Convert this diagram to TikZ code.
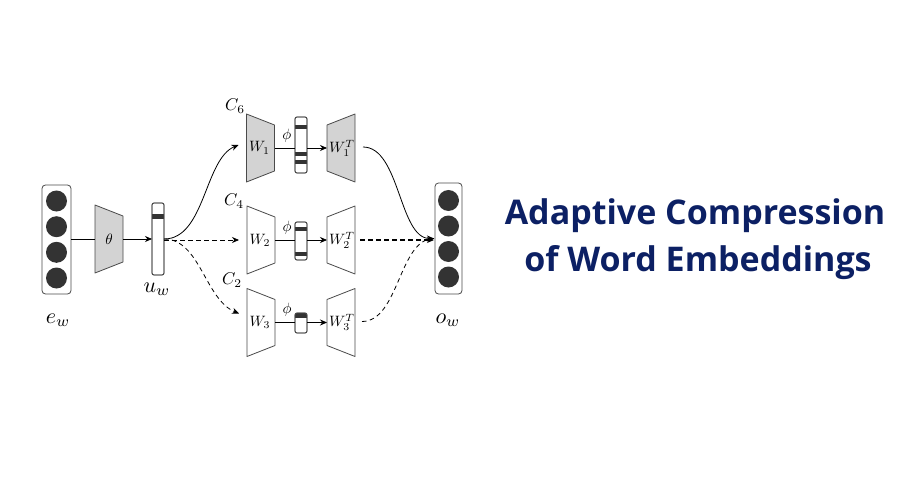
\documentclass[tikz,border=0pt]{standalone}
\usepackage{fontspec}
\newfontfamily\titlefont[Ligatures=NoCommon]{Open Sans}
\usetikzlibrary{arrows.meta,backgrounds}
\definecolor{titleblue}{HTML}{0C2064}
\definecolor{trapgray}{HTML}{D3D3D3}
\definecolor{dotgray}{HTML}{333333}
\definecolor{edgegray}{HTML}{4A4A4A}
\newcommand{\encshape}[2]{\draw[trap,#2] (#1.north west) -- ([yshift=-11pt]#1.north east) -- ([yshift=11pt]#1.south east) -- (#1.south west) -- cycle;}
\newcommand{\decshape}[2]{\draw[trap,#2] ([yshift=-11pt]#1.north west) -- (#1.north east) -- (#1.south east) -- ([yshift=11pt]#1.south west) -- cycle;}
\begin{document}
\begin{tikzpicture}[x=1pt,y=-1pt,
  trapnode/.style={minimum width=28pt,minimum height=68pt,inner sep=0pt,outer sep=0pt},
  traptext/.style={inner sep=0pt,scale=1.5},
  trap/.style={draw=edgegray,line width=0.8pt,line join=round,fill=white},
  filled/.style={fill=trapgray},
  vecbox/.style={draw=edgegray,line width=0.8pt,rounded corners=3.5pt,fill=white,inner sep=0pt,outer sep=0pt},
  barbox/.style={draw=edgegray,line width=0.8pt,rounded corners=2pt,fill=white,minimum width=12pt,inner sep=0pt,outer sep=0pt},
  barline/.style={draw=edgegray,line width=0.8pt,rounded corners=2pt},
  band/.style={fill=dotgray},
  dot/.style={fill=dotgray},
  conn/.style={line width=0.8pt},
  arr/.style={conn,-{Stealth[length=7pt,width=6pt]}},
  dashedconn/.style={dash pattern=on 4.5pt off 3.5pt},
  biglabel/.style={scale=2.2},
  clabel/.style={scale=1.7},
  smalllabel/.style={scale=1.5},
  titletext/.style={font=\titlefont\bfseries\fontsize{34}{40}\selectfont,text=titleblue,anchor=base}
]
\useasboundingbox (0,0) rectangle (900,500);

% input and output vectors
\node[vecbox,minimum width=29pt,minimum height=109pt] (ew) at (56.5,239.5) {};
\foreach \yy in {201,226.7,252.3,278} \fill[dot] (56.5,\yy) circle (10.5);
\node[vecbox,minimum width=27pt,minimum height=111pt] (ow) at (448.5,238.5) {};
\foreach \yy in {200.5,226,251.5,277} \fill[dot] (448.5,\yy) circle (10.5);

% encoder theta
\node[trapnode] (enc) at (109,239) {};
\node[traptext] (enct) at (enc) {$\theta$};
\node[barbox,minimum height=72pt] (uw) at (158,239) {};
\fill[band] (152,214) rectangle (164,219);
\draw[barline] (uw.north west) rectangle (uw.south east);

% branch encoders / decoders
\node[trapnode] (W1) at (260.5,148) {};
\node[trapnode] (W2) at (261,240) {};
\node[trapnode] (W3) at (261,322.5) {};
\node[trapnode] (D1) at (341,148) {};
\node[trapnode] (D2) at (341,240) {};
\node[trapnode] (D3) at (341,322.5) {};

\begin{pgfonlayer}{background}
\encshape{enc}{filled}
\encshape{W1}{filled}
\encshape{W2}{}
\encshape{W3}{}
\decshape{D1}{filled}
\decshape{D2}{}
\decshape{D3}{}
\end{pgfonlayer}

\node[traptext] (W1t) at ([xshift=-1pt]W1) {$W_1$};
\node[traptext] (W2t) at ([xshift=-1pt]W2) {$W_2$};
\node[traptext] (W3t) at ([xshift=-1pt]W3) {$W_3$};
\node[traptext] (D1t) at ([xshift=1pt]D1) {$W_1^T$};
\node[traptext] (D2t) at ([xshift=1pt]D2) {$W_2^T$};
\node[traptext] (D3t) at ([xshift=1pt]D3) {$W_3^T$};

% compressed codes
\node[barbox,minimum height=56pt] (b1) at (301,145) {};
\node[barbox,minimum height=38pt] (b2) at (301,241) {};
\node[barbox,minimum height=20pt] (b3) at (301,323) {};
\begin{scope}
\clip[rounded corners=2pt] (b1.north west) rectangle (b1.south east);
\fill[band] (295,125.5) rectangle (307,129.5);
\fill[band] (295,152) rectangle (307,156);
\fill[band] (295,160) rectangle (307,164);
\end{scope}
\begin{scope}
\clip[rounded corners=2pt] (b2.north west) rectangle (b2.south east);
\fill[band] (295,227) rectangle (307,231);
\fill[band] (295,252) rectangle (307,256);
\end{scope}
\begin{scope}
\clip[rounded corners=2pt] (b3.north west) rectangle (b3.south east);
\fill[band] (295,313) rectangle (307,318);
\end{scope}
\draw[barline] (b1.north west) rectangle (b1.south east);
\draw[barline] (b2.north west) rectangle (b2.south east);
\draw[barline] (b3.north west) rectangle (b3.south east);

% labels
\node[biglabel] (ewl) at (58,320) {$e_w$};
\node[biglabel] (uwl) at (157,289) {$u_w$};
\node[biglabel] (owl) at (448,320) {$o_w$};
\node[clabel] (c6) at (235,106) {$C_6$};
\node[clabel] (c4) at (234,201) {$C_4$};
\node[clabel] (c2) at (232,280) {$C_2$};

% connectors
\draw[conn] (ew.east |- enc.west) -- (enc.west);
\draw[arr] (enc.east) -- (uw.west |- enc.east);

\coordinate (in1) at ([xshift=-8pt,yshift=3pt]W1.west);
\coordinate (in2) at ([xshift=-8pt]W2.west);
\coordinate (in3) at ([xshift=-8pt,yshift=9pt]W3.west);
\draw[arr] (uw.east) .. controls +(41,0) and +(-34,14) .. (in1);
\draw[arr,dashedconn] (uw.east |- in2) -- (in2);
\draw[arr,dashedconn] (uw.east) .. controls +(36,0) and +(-34,-14) .. (in3);

\foreach \r in {1,2,3}{
  \draw[conn] (W\r.east) -- node[above=0.3pt,smalllabel,pos=0.6] (phi\r) {$\phi$} (W\r.east -| b\r.west);
  \draw[arr] (W\r.east -| b\r.east) -- (D\r.west);
}

\coordinate (out1) at ([xshift=8pt,yshift=1pt]D1.east);
\coordinate (out2) at ([xshift=5pt]D2.east);
\coordinate (out3) at ([xshift=7pt,yshift=1pt]D3.east);
\draw[arr] (out1) .. controls +(37,0) and +(-35,0) .. ([xshift=-1pt]ow.west);
\draw[arr,dashedconn,line width=1.3pt] (out2) -- ([xshift=-1pt]ow.west |- out2);
\draw[conn,dashedconn] (out3) .. controls +(37,0) and +(-35,0) .. ([xshift=-1pt]ow.west);

% title
\node[titletext] (title1) at (695,225) {Adaptive Compression};
\node[titletext] (title2) at (698,271) {of Word Embeddings};
\end{tikzpicture}
\end{document}
